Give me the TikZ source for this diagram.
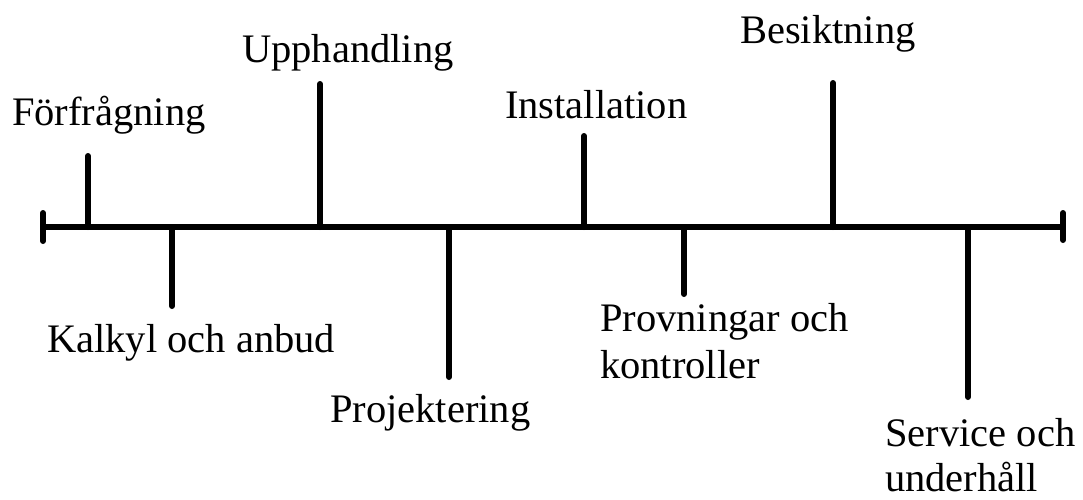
\documentclass[tikz,border=0pt]{standalone}
\usepackage{fontspec}
\setmainfont{Liberation Serif}
\begin{document}
\begin{tikzpicture}[x=1pt,y=-1pt,
  axisline/.style={line width=6pt},
  tickline/.style={line width=6pt, line cap=round},
  lbl/.style={inner sep=0pt, anchor=base west, font=\fontsize{40.5}{47}\selectfont, align=left}]
\useasboundingbox (0,0) rectangle (1083,499);
% axis
\coordinate (L) at (43,227);
\coordinate (R) at (1063,227);
\coordinate (La) at (43,213);
\coordinate (Lb) at (43,241);
\coordinate (Ra) at (1063,213);
\coordinate (Rb) at (1063,240);
\draw[axisline] (L) -- (R);
\draw[tickline] (La) -- (Lb);
\draw[tickline] (Ra) -- (Rb);
% tick bases and ends
\coordinate (b1) at (88,227);  \coordinate (e1) at (88,156);
\coordinate (b2) at (172,227); \coordinate (e2) at (172,306);
\coordinate (b3) at (320,227); \coordinate (e3) at (320,84);
\coordinate (b4) at (449,227); \coordinate (e4) at (449,377);
\coordinate (b5) at (584,227); \coordinate (e5) at (584,136);
\coordinate (b6) at (684,227); \coordinate (e6) at (684,294);
\coordinate (b7) at (833,227); \coordinate (e7) at (833,83);
\coordinate (b8) at (968,227); \coordinate (e8) at (968,397);
\foreach \i in {1,...,8} \draw[tickline] (b\i) -- (e\i);
% labels
\node[lbl] (t1) at (12,125) {Förfrågning};
\node[lbl] (t2) at (47,352) {Kalkyl och anbud};
\node[lbl] (t3) at (242,62) {Upphandling};
\node[lbl] (t4) at (330,422) {Projektering};
\node[lbl] (t5) at (505,118) {Installation};
\node[lbl] (t6) at (600,378) {Provningar och\\kontroller};
\node[lbl] (t7) at (740,43) {Besiktning};
\node[lbl, font=\fontsize{40.5}{45}\selectfont] (t8) at (885,491) {Service och\\underhåll};
\end{tikzpicture}
\end{document}
